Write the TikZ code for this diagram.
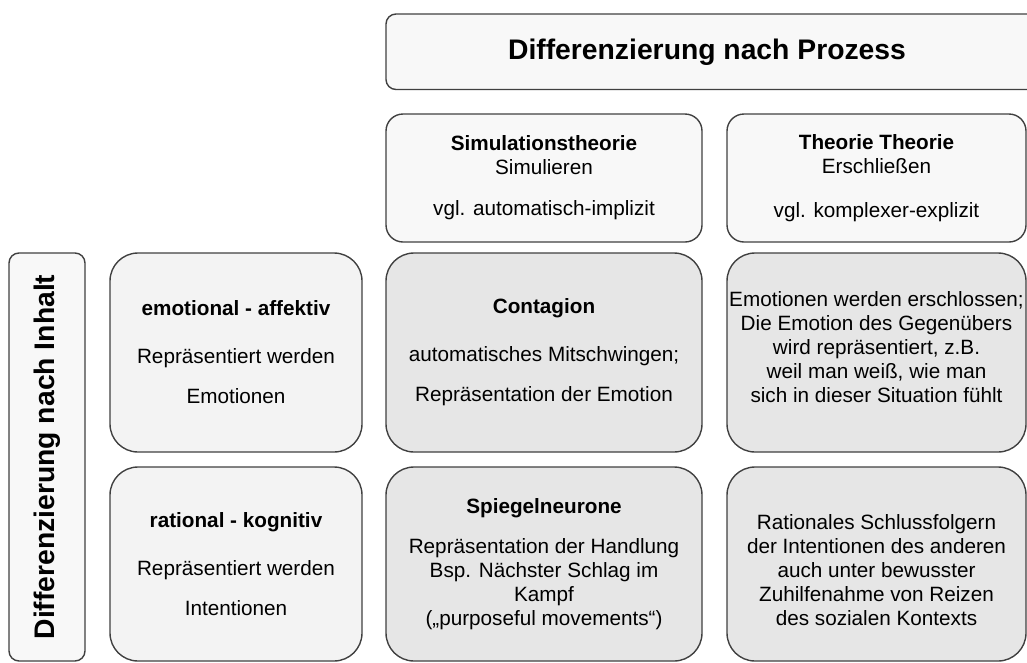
\documentclass[tikz,border=0pt]{standalone}
\usepackage{fontspec}
\setmainfont{Liberation Sans}
\definecolor{hell}{HTML}{F8F8F8}
\definecolor{mittel}{HTML}{F3F3F3}
\definecolor{dunkel}{HTML}{E6E6E6}
\tikzset{
  feld/.style={draw=black!75,line width=1.4pt,rounded corners=#1,align=center,inner sep=0pt,
    font=\fontsize{20.7}{24}\selectfont},
  feld/.default=28pt,
  gross/.style={font=\fontsize{28.3}{32}\selectfont\bfseries}
}
\begin{document}
\begin{tikzpicture}[x=1pt,y=-1pt]
\useasboundingbox (0,0) rectangle (1027,662);
\clip (0,0) rectangle (1027,662);

\node[feld=10pt,fill=hell,minimum width=664,minimum height=75.5] (prozess) at (718,51.75) {};
\node[gross] (prozesstitel) at (707,52) {Differenzierung nach Prozess};

\node[feld=17pt,fill=hell,minimum width=316,minimum height=128] (sim) at (544,178)
  {\textbf{Simulationstheorie}\\Simulieren\\[17pt]vgl. automatisch-implizit};
\node[feld=17pt,fill=hell,minimum width=299,minimum height=128] (theo) at (876.5,178)
  {\textbf{Theorie Theorie}\\Erschließen\\[20pt]vgl. komplexer-explizit};

\node[feld=10pt,fill=hell,rotate=90,minimum width=408,minimum height=76,gross]
  (inhalt) at (47,457) {Differenzierung nach Inhalt};

\node[feld,fill=mittel,minimum width=252,minimum height=199] (emo) at (236,352.5)
  {\textbf{emotional - affektiv}\\[24pt]Repräsentiert werden\\[16pt]Emotionen};
\node[feld,fill=mittel,minimum width=252,minimum height=194] (kog) at (236,564)
  {\textbf{rational - kognitiv}\\[24pt]Repräsentiert werden\\[16pt]Intentionen};

\node[feld,fill=dunkel,minimum width=316,minimum height=199] (cont) at (544,352.5)
  {\textbf{Contagion}\\[24pt]automatisches Mitschwingen;\\[16pt]Repräsentation der Emotion};
\node[feld,fill=dunkel,minimum width=299,minimum height=199] (ersch) at (876.5,352.5)
  {Emotionen werden erschlossen;\\Die Emotion des Gegenübers\\wird repräsentiert, z.B.\\weil man weiß, wie man\\sich in dieser Situation fühlt\rule[-12pt]{0pt}{0pt}};

\node[feld,fill=dunkel,minimum width=316,minimum height=194] (spiegel) at (544,564)
  {\textbf{Spiegelneurone}\\[16pt]Repräsentation der Handlung\\Bsp. Nächster Schlag im\\Kampf\\(„purposeful movements“)};
\node[feld,fill=dunkel,minimum width=299,minimum height=194] (schluss) at (876.5,564)
  {\rule{0pt}{27pt}Rationales Schlussfolgern\\der Intentionen des anderen\\auch unter bewusster\\Zuhilfenahme von Reizen\\des sozialen Kontexts};
\end{tikzpicture}
\end{document}
